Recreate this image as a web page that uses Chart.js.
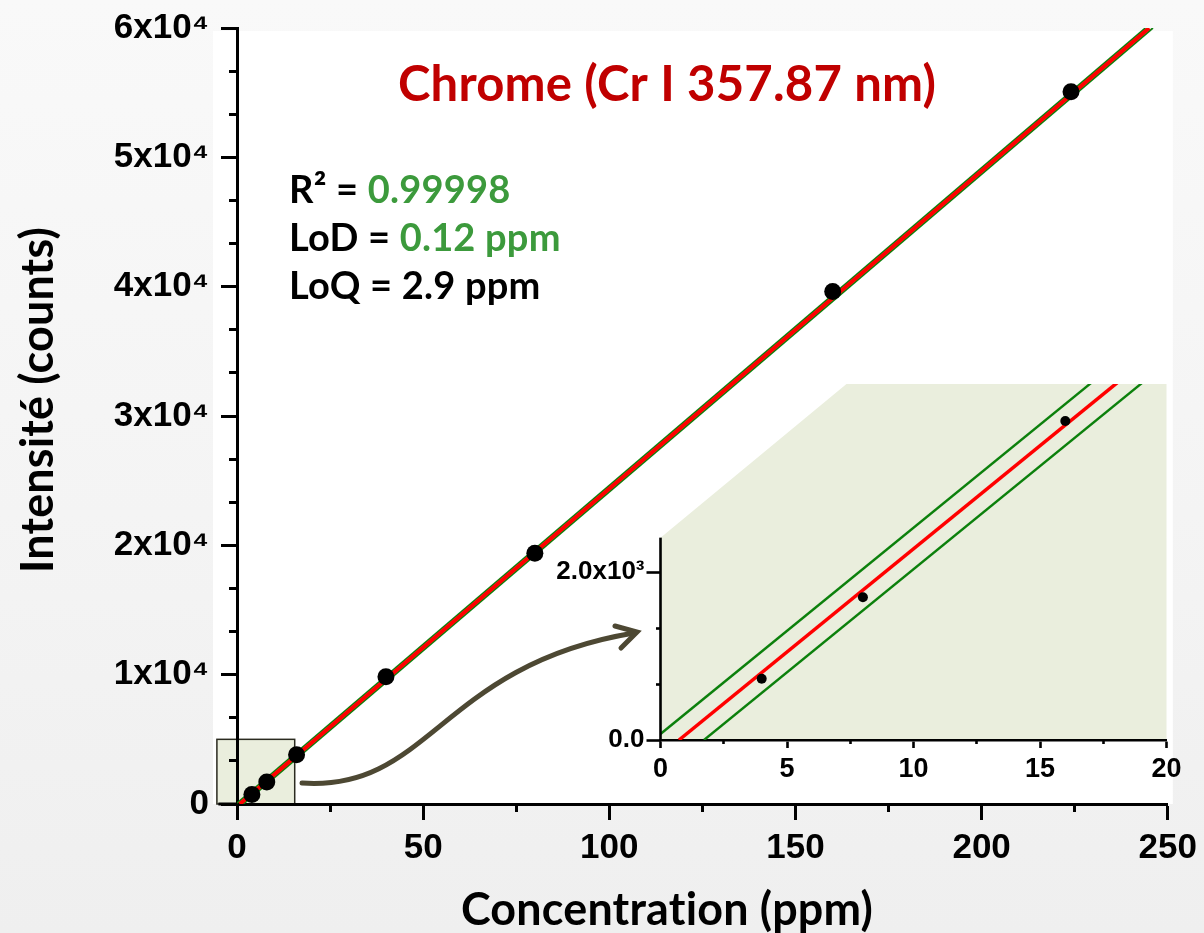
<!DOCTYPE html>
<html><head><meta charset="utf-8">
<script src="https://cdn.jsdelivr.net/npm/chart.js@4/dist/chart.umd.min.js"></script>
<style>
html,body{margin:0;padding:0;}
body{width:1204px;height:933px;overflow:hidden;position:relative;
 background:linear-gradient(180deg,#f9f9f9 0%,#f4f4f4 55%,#efefef 100%);}
#main{position:absolute;left:0;top:0;}
#inset{position:absolute;left:540px;top:360px;}
</style></head><body>
<canvas id="main" width="1204" height="933"></canvas>
<canvas id="inset" width="664" height="470"></canvas>
<script>
// ---- data ----
const concentrations = [4, 8, 16, 40, 80, 160, 224];
const intensities = [730, 1700, 3800, 9840, 19390, 39620, 55070];
// calibration line and its band (end points)
const fitX = [0.73, 245];
const fitY = [0, 60000];
const upperX = [0, 244];
const upperY = [72, 60000];
const lowerX = [1.72, 246];
const lowerY = [0, 60000];
// main axes ticks
const xTicks = [0, 50, 100, 150, 200, 250];
const xMinorTicks = [25, 75, 125, 175, 225];
const yTicks = [0, 10000, 20000, 30000, 40000, 50000, 60000];
const yTickLabels = ['0', '1x10⁴', '2x10⁴', '3x10⁴', '4x10⁴', '5x10⁴', '6x10⁴'];
const yMinorTicks = [3333.3, 6666.7, 13333.3, 16666.7, 23333.3, 26666.7, 33333.3, 36666.7, 43333.3, 46666.7, 53333.3, 56666.7];
const xAxisStart = -5;
// inset axes ticks
const insetXTicks = [0, 5, 10, 15, 20];
const insetXMinorTicks = [2.5, 7.5, 12.5, 17.5];
const insetYTicks = [0, 2000];
const insetYTickLabels = ['0.0', '2.0x10³'];
const insetYMinorTicks = [666.7, 1333.3];
// zoom box on the main chart and shaded zoom region of the inset (data units)
const zoomBoxX = [-5.4, 15.5];
const zoomBoxY = [0, 5000];
const insetRegionX = [0, 0, 7.35, 20, 20];
const insetRegionY = [0, 2410, 4240, 4240, 0];
const insetAxisTop = 2410;
// texts
const titleText = 'Chrome (Cr I 357.87 nm)';
const statLines = [['R² = ', '0.99998'], ['LoD = ', '0.12 ppm'], ['LoQ = 2.9 ppm', '']];
const xTitle = 'Concentration (ppm)';
const yTitle = 'Intensité (counts)';

const RED = '#ff0000', GREEN = '#0c800c', TXTGREEN = '#3c9a3c', TITLERED = '#c00000';
const ZOOMFILL = '#eaeedd';
const TICKFONT = 'Liberation Sans, Arial, sans-serif';
const TXTFONT = 'Lato, Carlito, Calibri, sans-serif';

const toXY = (xs, ys) => xs.map((x, i) => ({x: x, y: ys[i]}));
const setTicks = arr => (s => { s.ticks = arr.map(v => ({value: v})); });

function lineDs(xs, ys, color, w, order) {
  return {data: toXY(xs, ys), showLine: true, borderColor: color, borderWidth: w,
          pointRadius: 0, pointHoverRadius: 0, order: order, tension: 0};
}

function fitSize(ctx, text, weight, family, target) {
  ctx.font = weight + ' 100px ' + family;
  return 100 * target / ctx.measureText(text).width;
}

const mainDecor = {
  id: 'mainDecor',
  beforeDraw(chart) {
    const {ctx, chartArea: a, scales: {x, y}} = chart;
    ctx.save();
    ctx.fillStyle = '#ffffff';
    ctx.fillRect(a.left - 24, a.top + 3, a.right - a.left + 29, a.bottom - a.top - 3);
    const bx0 = x.getPixelForValue(zoomBoxX[0]), bx1 = x.getPixelForValue(zoomBoxX[1]);
    const by0 = y.getPixelForValue(zoomBoxY[0]), by1 = y.getPixelForValue(zoomBoxY[1]);
    ctx.fillStyle = ZOOMFILL;
    ctx.fillRect(bx0, by1, bx1 - bx0, by0 - by1);
    ctx.strokeStyle = '#2b2b20';
    ctx.lineWidth = 1.5;
    ctx.strokeRect(bx0, by1, bx1 - bx0, by0 - by1);
    ctx.restore();
  },
  afterDraw(chart) {
    const {ctx, scales: {x, y}} = chart;
    ctx.save();
    // x axis continues a little left of zero
    ctx.strokeStyle = '#000';
    ctx.lineWidth = 3;
    const y0 = y.getPixelForValue(0);
    ctx.beginPath();
    ctx.moveTo(x.getPixelForValue(xAxisStart), y0);
    ctx.lineTo(x.getPixelForValue(0), y0);
    ctx.stroke();
    ctx.letterSpacing = '0.2px';
    // title
    let fs = fitSize(ctx, titleText, 'bold', TXTFONT, 536);
    ctx.font = 'bold ' + fs + 'px ' + TXTFONT;
    ctx.fillStyle = TITLERED;
    ctx.textAlign = 'center';
    ctx.textBaseline = 'alphabetic';
    ctx.fillText(titleText, 667, 101);
    // stats
    fs = fitSize(ctx, 'LoD = 0.12 ppm', 'bold', TXTFONT, 270);
    ctx.font = 'bold ' + fs + 'px ' + TXTFONT;
    ctx.textAlign = 'left';
    const bases = [203, 251, 299];
    statLines.forEach((ln, i) => {
      ctx.fillStyle = '#000';
      ctx.fillText(ln[0], 289, bases[i]);
      const w = ctx.measureText(ln[0]).width;
      ctx.fillStyle = TXTGREEN;
      ctx.fillText(ln[1], 289 + w, bases[i]);
    });
    // axis titles
    fs = fitSize(ctx, xTitle, 'bold', TXTFONT, 410);
    ctx.font = 'bold ' + fs + 'px ' + TXTFONT;
    ctx.fillStyle = '#000';
    ctx.textAlign = 'center';
    ctx.fillText(xTitle, 667, 925);
    ctx.translate(53, 400);
    ctx.rotate(-Math.PI / 2);
    ctx.fillText(yTitle, 0, 0);
    ctx.setTransform(1, 0, 0, 1, 0, 0);
    // arrow
    ctx.strokeStyle = '#4d4833';
    ctx.lineWidth = 5;
    ctx.lineCap = 'round';
    ctx.beginPath();
    ctx.moveTo(302, 783);
    ctx.bezierCurveTo(430, 792, 440, 665, 634, 633);
    ctx.stroke();
    ctx.lineJoin = 'miter';
    ctx.beginPath();
    ctx.moveTo(615, 626);
    ctx.lineTo(637, 632);
    ctx.lineTo(621, 648);
    ctx.stroke();
    ctx.restore();
  }
};

const tickFont = (s) => ({family: TICKFONT, weight: 'bold', size: s});
const noPadY = s => { s.paddingTop = 0; s.paddingBottom = 0; };

new Chart(document.getElementById('main'), {
  type: 'scatter',
  data: {datasets: [
    {data: toXY(concentrations, intensities), pointRadius: 8.5, pointHoverRadius: 8.5,
     pointBackgroundColor: '#000', pointBorderWidth: 0, order: 0},
    lineDs(fitX, fitY, RED, 4, 1),
    lineDs(upperX, upperY, GREEN, 1.8, 2),
    lineDs(lowerX, lowerY, GREEN, 1.8, 2)
  ]},
  options: {
    responsive: false, animation: false, maintainAspectRatio: false,
    layout: {padding: {left: 0, right: 34, top: 28, bottom: 0}},
    plugins: {legend: {display: false}, tooltip: {enabled: false}},
    scales: {
      x: {type: 'linear', min: 0, max: 250, position: 'bottom',
          afterBuildTicks: setTicks(xTicks),
          afterFit: s => { s.height = 129; },
          grid: {drawOnChartArea: false, tickLength: 16, tickWidth: 3, tickColor: '#000'},
          border: {display: true, color: '#000', width: 3},
          ticks: {color: '#000', font: tickFont(35), padding: 7, maxRotation: 0, autoSkip: false}},
      xMinor: {type: 'linear', axis: 'x', min: 0, max: 250, position: {y: 0},
          afterBuildTicks: setTicks(xMinorTicks),
          grid: {drawOnChartArea: false, tickLength: 8, tickWidth: 3, tickColor: '#000'},
          border: {display: false},
          ticks: {callback: () => '', font: {size: 2}, autoSkip: false}},
      y: {type: 'linear', min: 0, max: 60000, position: 'left',
          afterBuildTicks: setTicks(yTicks),
          afterFit: s => { s.width = 237; noPadY(s); },
          grid: {drawOnChartArea: false, tickLength: 16, tickWidth: 3, tickColor: '#000'},
          border: {display: true, color: '#000', width: 3},
          ticks: {color: '#000', font: tickFont(35), padding: 12, autoSkip: false,
                  callback: v => yTickLabels[yTicks.indexOf(v)]}},
      yMinor: {type: 'linear', axis: 'y', min: 0, max: 60000, position: {x: 0},
          afterBuildTicks: setTicks(yMinorTicks),
          afterFit: noPadY,
          grid: {drawOnChartArea: false, tickLength: 8, tickWidth: 3, tickColor: '#000'},
          border: {display: false},
          ticks: {callback: () => '', font: {size: 2}, autoSkip: false}}
    }
  },
  plugins: [mainDecor]
});

const insetDecor = {
  id: 'insetDecor',
  beforeDraw(chart) {
    const {ctx, scales: {x, y}} = chart;
    ctx.save();
    ctx.fillStyle = ZOOMFILL;
    ctx.beginPath();
    insetRegionX.forEach((vx, i) => {
      const px = x.getPixelForValue(vx), py = y.getPixelForValue(insetRegionY[i]);
      if (i === 0) ctx.moveTo(px, py); else ctx.lineTo(px, py);
    });
    ctx.closePath();
    ctx.fill();
    ctx.restore();
  },
  afterDraw(chart) {
    const {ctx, scales: {x, y}} = chart;
    ctx.save();
    ctx.strokeStyle = '#000';
    ctx.lineWidth = 2.6;
    const px = x.getPixelForValue(0);
    ctx.beginPath();
    ctx.moveTo(px, y.getPixelForValue(0) + 1.3);
    ctx.lineTo(px, y.getPixelForValue(insetAxisTop));
    ctx.stroke();
    ctx.restore();
  }
};

new Chart(document.getElementById('inset'), {
  type: 'scatter',
  data: {datasets: [
    {data: toXY(concentrations, intensities), pointRadius: 5, pointHoverRadius: 5,
     pointBackgroundColor: '#000', pointBorderWidth: 0, order: 0},
    lineDs(fitX, fitY, RED, 3.5, 1),
    lineDs(upperX, upperY, GREEN, 2.4, 2),
    lineDs(lowerX, lowerY, GREEN, 2.4, 2)
  ]},
  options: {
    responsive: false, animation: false, maintainAspectRatio: false,
    layout: {padding: {left: 0, right: 37.5, top: 24, bottom: 0}},
    plugins: {legend: {display: false}, tooltip: {enabled: false}},
    scales: {
      x: {type: 'linear', min: 0, max: 20, position: 'bottom',
          afterBuildTicks: setTicks(insetXTicks),
          afterFit: s => { s.height = 90; },
          grid: {drawOnChartArea: false, tickLength: 8, tickWidth: 2.6, tickColor: '#000'},
          border: {display: true, color: '#000', width: 2.6},
          ticks: {color: '#000', font: tickFont(27), padding: 5, maxRotation: 0, autoSkip: false}},
      xMinor: {type: 'linear', axis: 'x', min: 0, max: 20, position: {y: 0},
          afterBuildTicks: setTicks(insetXMinorTicks),
          grid: {drawOnChartArea: false, tickLength: 4, tickWidth: 2.6, tickColor: '#000'},
          border: {display: false},
          ticks: {callback: () => '', font: {size: 2}, autoSkip: false}},
      y: {type: 'linear', min: 0, max: 4240, position: 'left',
          afterBuildTicks: setTicks(insetYTicks),
          afterFit: s => { s.width = 120.5; noPadY(s); },
          grid: {drawOnChartArea: false, tickLength: 14, tickWidth: 2.6, tickColor: '#000'},
          border: {display: false},
          ticks: {color: '#000', font: tickFont(26), padding: 2, autoSkip: false,
                  callback: v => insetYTickLabels[insetYTicks.indexOf(v)]}},
      yMinor: {type: 'linear', axis: 'y', min: 0, max: 4240, position: {x: 0},
          afterBuildTicks: setTicks(insetYMinorTicks),
          afterFit: noPadY,
          grid: {drawOnChartArea: false, tickLength: 5, tickWidth: 2.6, tickColor: '#000'},
          border: {display: false},
          ticks: {callback: () => '', font: {size: 2}, autoSkip: false}}
    }
  },
  plugins: [insetDecor]
});
</script>
</body></html>
